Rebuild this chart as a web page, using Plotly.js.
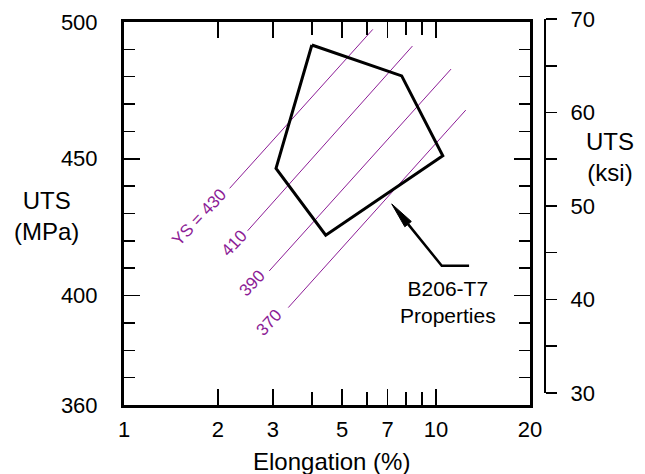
<!DOCTYPE html>
<html>
<head>
<meta charset="utf-8">
<script src="https://cdn.plot.ly/plotly-3.0.1.min.js"></script>
<style>html,body{margin:0;padding:0;background:#fff;}#chart{width:645px;height:474px;}</style>
</head>
<body>
<div id="chart"></div>
<script>
// B206-T7 property envelope (Elongation %, UTS MPa)
const envElong = [4.00, 7.76, 10.51, 4.43, 3.07, 4.00];
const envUTS   = [491.6, 480.3, 451.1, 422.1, 446.5, 491.6];

// Yield-strength iso-lines: start/end points
const ysLabels   = ['YS = 430', '410', '390', '370'];
const ysElongA   = [2.18, 2.49, 2.92, 3.36];
const ysUTSA     = [439.2, 423.7, 409.0, 395.6];
const ysElongB   = [6.27, 8.40, 11.17, 12.45];
const ysUTSB     = [497.3, 491.2, 482.8, 467.8];
const ysLabelElong = [1.74, 2.25, 2.57, 2.92];
const ysLabelUTS   = [428.6, 419.1, 404.5, 390.1];

// Callout leader (end, corner, arrow tip)
const calloutElong = [12.76, 10.43, 7.21];
const calloutUTS   = [410.9, 410.9, 433.5];
const calloutText  = 'B206-T7<br>Properties';
const calloutPos   = [10.93, 397.8];

// Axis ticks
const xTicks = [1, 2, 3, 5, 7, 10, 20];
const xMinor = [4, 6, 8, 9];
const yTicks = [360, 400, 450, 500];
const ksiTicks = [30, 40, 50, 60, 70];

const purple = '#8c1c96';
const font = 'Liberation Sans, Arial, sans-serif';

// Plot geometry
const W = 645, H = 474, M = {l: 124, r: 70, t: 10, b: 69};
const xDomain = [0, 0.9002], yDomain = [0, 0.9696];
const xRange = [0, Math.log10(20)], yRange = [360, 500];
const pxPerDecade = (W - M.l - M.r) * (xDomain[1] - xDomain[0]) / (xRange[1] - xRange[0]);
const pxPerMPa = (H - M.t - M.b) * (yDomain[1] - yDomain[0]) / (yRange[1] - yRange[0]);

// Narrow arrowhead at the leader tip, pointing from the corner to the tip
const n = calloutElong.length;
const tipLx = Math.log10(calloutElong[n - 1]), tipY = calloutUTS[n - 1];
const cLx = Math.log10(calloutElong[n - 2]), cY = calloutUTS[n - 2];
let ux = (cLx - tipLx) * pxPerDecade, uy = (cY - tipY) * pxPerMPa;
const ulen = Math.hypot(ux, uy); ux /= ulen; uy /= ulen;
const headLen = 26, headHalf = 4.2;
const bx = ux * headLen, by = uy * headLen;
const headX = [tipLx, tipLx + (bx - uy * headHalf) / pxPerDecade, tipLx + (bx + uy * headHalf) / pxPerDecade, tipLx]
  .map(v => Math.pow(10, v));
const headY = [tipY, tipY + (by + ux * headHalf) / pxPerMPa, tipY + (by - ux * headHalf) / pxPerMPa, tipY];

const traces = [];
for (let i = 0; i < ysLabels.length; i++) {
  traces.push({
    type: 'scatter',
    x: [ysElongA[i], ysElongB[i]], y: [ysUTSA[i], ysUTSB[i]],
    mode: 'lines', line: {color: purple, width: 1}, hoverinfo: 'skip', showlegend: false
  });
}
traces.push({
  type: 'scatter',
  x: envElong, y: envUTS, mode: 'lines',
  line: {color: '#000', width: 3}, showlegend: false
});
// leader stops at the arrowhead base
traces.push({
  type: 'scatter',
  x: calloutElong.slice(0, n - 1).concat([Math.pow(10, tipLx + bx / pxPerDecade)]),
  y: calloutUTS.slice(0, n - 1).concat([tipY + by / pxPerMPa]),
  mode: 'lines', line: {color: '#000', width: 2.5}, showlegend: false
});
traces.push({
  type: 'scatter', x: headX, y: headY, mode: 'lines', fill: 'toself',
  fillcolor: '#000', line: {color: '#000', width: 1}, showlegend: false
});
traces.push({type: 'scatter', x: [1], y: [50], yaxis: 'y2', mode: 'markers', marker: {opacity: 0}, showlegend: false, hoverinfo: 'skip'});

const annotations = [];
for (let i = 0; i < ysLabels.length; i++) {
  annotations.push({
    x: Math.log10(ysLabelElong[i]), y: ysLabelUTS[i], xref: 'x', yref: 'y',
    text: ysLabels[i], showarrow: false, textangle: -47,
    font: {family: font, size: 17, color: purple}
  });
}
annotations.push({
  x: Math.log10(calloutPos[0]), y: calloutPos[1], xref: 'x', yref: 'y',
  text: calloutText, showarrow: false,
  font: {family: font, size: 21, color: '#000'}
});
annotations.push({x: (46 - M.l) / (W - M.l - M.r), y: (H - M.b - 216) / (H - M.t - M.b), xref: 'paper', yref: 'paper',
  xanchor: 'center', yanchor: 'middle', text: 'UTS<br>(MPa)', showarrow: false,
  font: {family: font, size: 24, color: '#000'}});
annotations.push({x: (610 - M.l) / (W - M.l - M.r), y: (H - M.b - 157) / (H - M.t - M.b), xref: 'paper', yref: 'paper',
  xanchor: 'center', yanchor: 'middle', text: 'UTS<br>(ksi)', showarrow: false,
  font: {family: font, size: 24, color: '#000'}});
annotations.push({x: (331 - M.l) / (W - M.l - M.r), y: (H - M.b - 461) / (H - M.t - M.b), xref: 'paper', yref: 'paper',
  xanchor: 'center', yanchor: 'middle', text: 'Elongation (%)', showarrow: false,
  font: {family: font, size: 24, color: '#000'}});

const layout = {
  width: W, height: H,
  margin: M,
  paper_bgcolor: '#fff', plot_bgcolor: 'rgba(0,0,0,0)',
  font: {family: font, size: 22, color: '#000'},
  showlegend: false,
  xaxis: {
    type: 'log', range: xRange, domain: xDomain,
    tickmode: 'array', tickvals: xTicks, ticktext: xTicks.map(String),
    ticks: 'inside', ticklen: 16, tickwidth: 1.5, tickcolor: '#000',
    minor: {tickmode: 'array', tickvals: xMinor, ticks: 'inside', ticklen: 13, tickwidth: 1.5, tickcolor: '#000'},
    showline: true, linewidth: 3, linecolor: '#000', mirror: 'ticks',
    showgrid: false, zeroline: false, ticklabelstandoff: 3,
    tickfont: {family: font, size: 22, color: '#000'}
  },
  yaxis: {
    range: yRange, domain: yDomain,
    tickmode: 'array', tickvals: yTicks, ticktext: yTicks.map(String),
    ticks: 'inside', ticklen: 16, tickwidth: 1.5, tickcolor: '#000',
    minor: {tickmode: 'linear', tick0: 360, dtick: 10, ticks: 'inside', ticklen: 11, tickwidth: 1.5, tickcolor: '#000'},
    showline: true, linewidth: 3, linecolor: '#000', mirror: 'ticks',
    showgrid: false, zeroline: false, ticklabelstandoff: 19,
    tickfont: {family: font, size: 22, color: '#000'}
  },
  yaxis2: {
    range: [30, 70], domain: [0.0304, 0.9772], anchor: 'free', position: 0.9335, side: 'right',
    tickmode: 'array', tickvals: ksiTicks, ticktext: ksiTicks.map(String),
    ticks: 'outside', ticklen: 11, tickwidth: 1.5, tickcolor: '#000',
    minor: {tickmode: 'linear', tick0: 30, dtick: 5, ticks: 'outside', ticklen: 11, tickwidth: 1.5, tickcolor: '#000'},
    showline: true, linewidth: 2, linecolor: '#000',
    showgrid: false, zeroline: false, ticklabelstandoff: 9,
    tickfont: {family: font, size: 22, color: '#000'}
  },
  annotations: annotations
};

Plotly.newPlot('chart', traces, layout, {staticPlot: true, displayModeBar: false});
</script>
</body>
</html>
